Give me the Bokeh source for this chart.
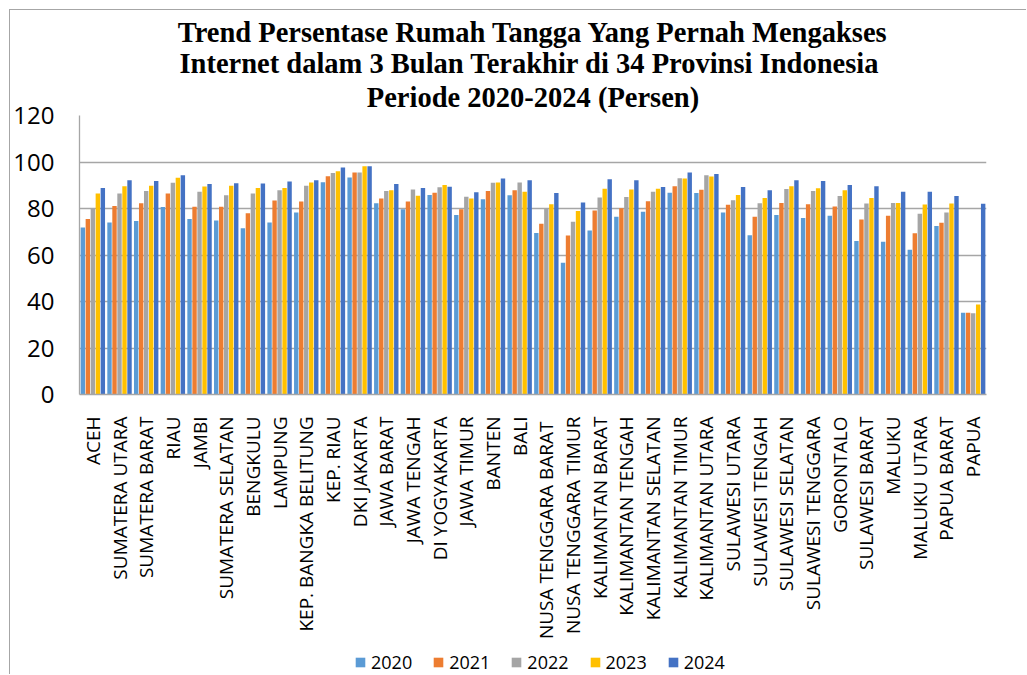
from bokeh.plotting import figure
from bokeh.layouts import column
from bokeh.models import (ColumnDataSource, FactorRange, Range1d, FixedTicker,
                          Legend, LegendItem, Title)
from bokeh.transform import dodge
from bokeh.embed import file_html
from bokeh.resources import INLINE

provinces = ["ACEH", "SUMATERA UTARA", "SUMATERA BARAT", "RIAU", "JAMBI",
             "SUMATERA SELATAN", "BENGKULU", "LAMPUNG", "KEP. BANGKA BELITUNG",
             "KEP. RIAU", "DKI JAKARTA", "JAWA BARAT", "JAWA TENGAH",
             "DI YOGYAKARTA", "JAWA TIMUR", "BANTEN", "BALI",
             "NUSA TENGGARA  BARAT", "NUSA TENGGARA TIMUR", "KALIMANTAN BARAT",
             "KALIMANTAN TENGAH", "KALIMANTAN SELATAN", "KALIMANTAN TIMUR",
             "KALIMANTAN UTARA", "SULAWESI UTARA", "SULAWESI TENGAH",
             "SULAWESI SELATAN", "SULAWESI TENGGARA", "GORONTALO",
             "SULAWESI BARAT", "MALUKU", "MALUKU UTARA", "PAPUA BARAT", "PAPUA"]

y2020 = [71.8, 74.0, 74.6, 80.6, 75.5, 74.8, 71.5, 74.0, 78.3, 91.3, 93.3, 82.3,
         79.7, 85.8, 77.2, 84.0, 85.7, 69.5, 56.7, 70.5, 76.5, 78.6, 86.8, 86.7,
         78.3, 68.5, 77.2, 75.9, 76.9, 66.0, 65.7, 62.3, 72.5, 35.2]
y2021 = [75.5, 81.1, 82.3, 86.4, 80.7, 80.7, 78.0, 83.4, 83.0, 93.9, 95.5, 84.3,
         83.0, 86.8, 79.7, 87.5, 87.9, 73.4, 68.4, 79.1, 80.1, 83.1, 89.6, 88.1,
         81.6, 76.5, 82.4, 81.8, 80.9, 75.3, 76.9, 69.4, 73.9, 35.2]
y2022 = [80.0, 86.5, 87.5, 91.1, 87.2, 85.7, 86.5, 87.9, 89.8, 95.3, 95.5, 87.5,
         88.2, 89.1, 85.1, 91.1, 91.2, 79.9, 74.3, 84.7, 85.0, 87.2, 93.0, 94.3,
         83.5, 82.3, 88.4, 87.5, 85.4, 82.1, 82.4, 77.7, 78.3, 35.0]
y2023 = [86.4, 89.6, 89.8, 93.2, 89.5, 89.8, 88.8, 88.8, 91.2, 96.0, 98.2, 87.9,
         85.5, 90.1, 84.3, 91.2, 87.2, 81.8, 78.9, 88.5, 88.2, 88.5, 92.9, 93.8,
         85.8, 84.5, 89.6, 88.7, 87.9, 84.5, 82.4, 81.7, 82.1, 38.7]
y2024 = [88.8, 92.2, 91.8, 94.3, 90.5, 90.9, 90.8, 91.6, 92.2, 97.6, 98.2, 90.5,
         88.8, 89.4, 87.0, 92.9, 92.2, 86.7, 82.6, 92.6, 92.2, 89.2, 95.5, 94.8,
         89.2, 87.9, 92.2, 91.8, 90.1, 89.6, 87.2, 87.2, 85.4, 82.0]

years = ["2020", "2021", "2022", "2023", "2024"]
colors = ["#5B9BD5", "#ED7D31", "#A5A5A5", "#FFC000", "#4472C4"]
y_ticks = [0, 20, 40, 60, 80, 100, 120]

title_lines = ["Trend Persentase Rumah Tangga Yang Pernah Mengakses",
               "Internet dalam 3 Bulan Terakhir di 34 Provinsi  Indonesia",
               "Periode 2020-2024 (Persen)"]

src = ColumnDataSource(dict(prov=provinces, y2020=y2020, y2021=y2021,
                            y2022=y2022, y2023=y2023, y2024=y2024))
offsets = [-0.375, -0.1875, 0.0, 0.1875, 0.375]

# ---- main chart ----
p = figure(width=1017, height=632, x_range=FactorRange(*provinces),
           y_range=Range1d(0, 120), output_backend="svg",
           toolbar_location=None, min_border_left=69, min_border_right=41,
           min_border_top=105, min_border_bottom=245)
p.styles = {"border-top": "1px solid #a6a6a6", "border-left": "1px solid #a6a6a6",
            "margin-top": "9px", "margin-left": "9px"}

# title lines: first added sits nearest the plot area
title_standoffs = [5, -3, 0]
for line, so in zip(reversed(title_lines), title_standoffs):
    t = Title(text=line, align="center", text_font="Liberation Serif",
              text_font_style="bold", text_font_size="28.5px", text_color="black",
              standoff=so)
    p.add_layout(t, "above")

for yr, col, off in zip(years, colors, offsets):
    p.vbar(x=dodge("prov", off, range=p.x_range), top="y" + yr, width=0.165,
           source=src, fill_color=col, line_color=None)

p.outline_line_color = None
p.xgrid.grid_line_color = None
p.ygrid.grid_line_color = "#a6a6a6"
p.ygrid.grid_line_width = 1.3
p.yaxis.ticker = FixedTicker(ticks=y_ticks)
p.yaxis.axis_line_color = "#a6a6a6"
p.yaxis.axis_line_width = 1.3
p.yaxis.major_tick_line_color = None
p.yaxis.minor_tick_line_color = None
p.yaxis.major_label_standoff = 19
p.yaxis.major_label_text_font = "Open Sans"
p.yaxis.major_label_text_font_size = "24px"
p.yaxis.major_label_text_color = "black"

p.xaxis.axis_line_color = "#a6a6a6"
p.xaxis.axis_line_width = 1.3
p.xaxis.major_tick_line_color = None
p.xaxis.minor_tick_line_color = None
p.xaxis.major_label_orientation = 1.5707963
p.xaxis.major_label_standoff = 16
p.xaxis.major_label_text_font = "Open Sans"
p.xaxis.major_label_text_font_size = "19px"
p.xaxis.major_label_text_color = "black"

# ---- legend strip (its bars lie outside its visible y range) ----
p2 = figure(width=1017, height=33, x_range=FactorRange(*provinces),
            y_range=Range1d(1000, 1001), output_backend="svg",
            toolbar_location=None, x_axis_type=None, y_axis_type=None,
            min_border=0)
p2.styles = {"border-left": "1px solid #a6a6a6", "margin-left": "9px"}
p2.outline_line_color = None
p2.xgrid.visible = False
p2.ygrid.visible = False
leg_renderers = []
for yr, col, off in zip(years, colors, offsets):
    leg_renderers.append(p2.vbar(x=dodge("prov", off, range=p2.x_range), top="y" + yr,
                                 width=0.165, source=src, fill_color=col,
                                 line_color=None))
legend = Legend(items=[LegendItem(label=yr, renderers=[r]) for yr, r in zip(years, leg_renderers)],
                orientation="horizontal", location=(275, 0), padding=0, margin=0,
                spacing=20, glyph_width=12, glyph_height=12, label_standoff=5,
                label_text_font="Open Sans", label_text_font_size="18px",
                label_text_color="black",
                border_line_color=None, background_fill_alpha=0)
p2.add_layout(legend, "center")

layout = column(p, p2, spacing=0)
open("out.html", "w").write(file_html(layout, INLINE))
